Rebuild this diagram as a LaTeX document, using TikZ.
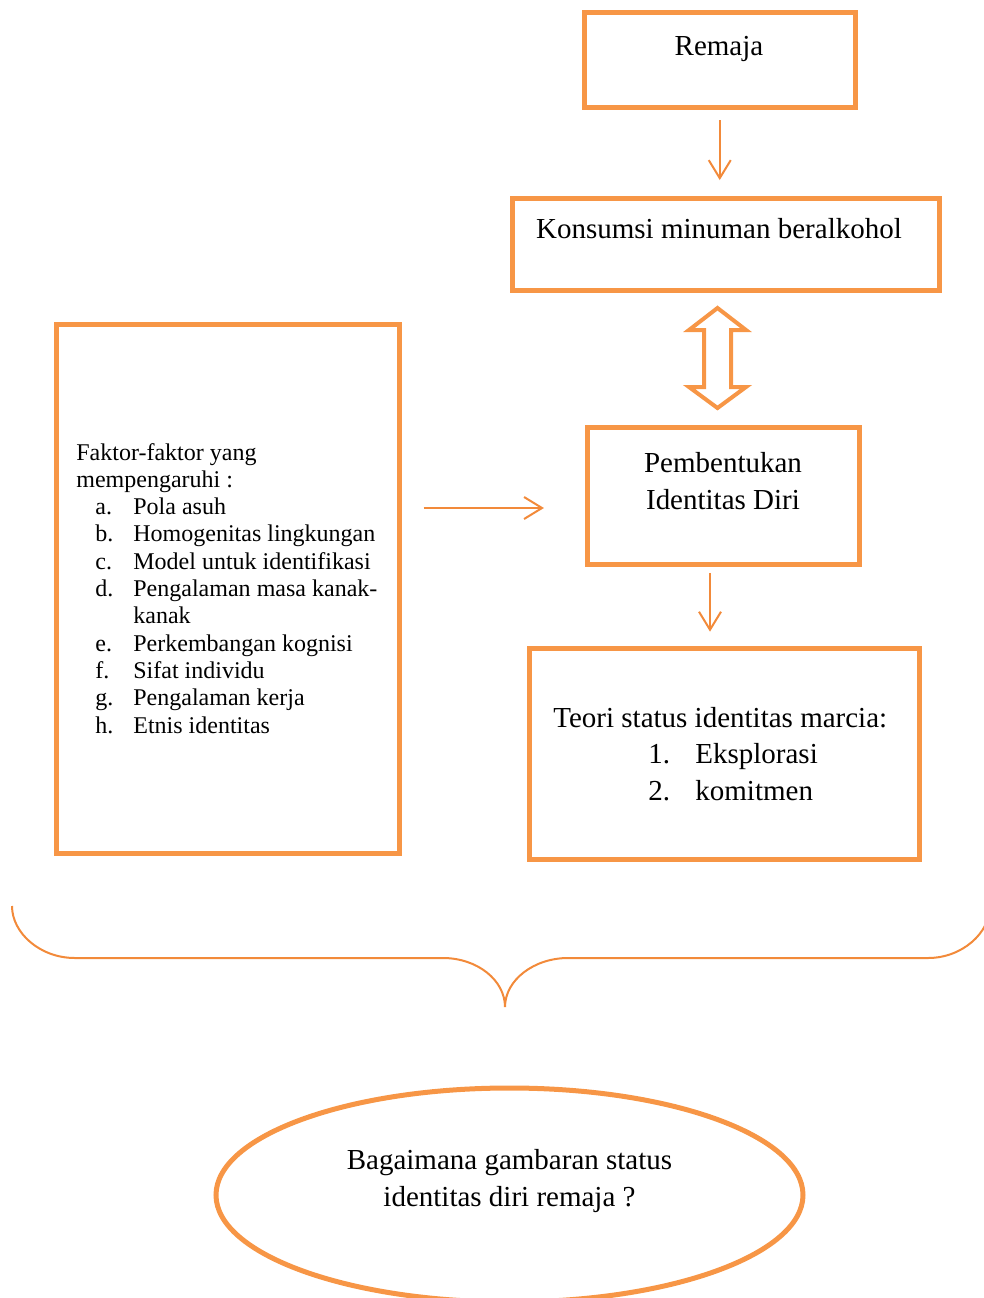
\documentclass[tikz,border=0pt]{standalone}
\usepackage{fontspec}
\setmainfont{Liberation Serif}
\usetikzlibrary{arrows.meta,shapes.geometric}
\definecolor{oranye}{HTML}{F79646}
\definecolor{oranyegaris}{HTML}{F28A3A}

\begin{document}
\begin{tikzpicture}[x=0.5pt,y=-0.5pt,
	kotak/.style={draw=oranye,line width=2.5pt,inner sep=0pt},
	panah/.style={draw=oranyegaris,line width=1pt,-{Straight Barb[length=9pt,width=11pt]}},
	besar/.style={font=\fontsize{14.5}{18.5}\selectfont,inner sep=0pt},
	kecil/.style={font=\fontsize{12}{13.65}\selectfont,inner sep=0pt}]
	\useasboundingbox (0,0) rectangle (984,1298);

	%menggambar kotak
	\node[kotak,minimum width=135.75pt,minimum height=47.5pt] (remaja) at (719.75,60) {};
	\node[kotak,minimum width=213.35pt,minimum height=45.85pt] (konsumsi) at (725.8,244.4) {};
	\node[kotak,minimum width=171.5pt,minimum height=264.5pt] (faktor) at (227.5,588.5) {};
	\node[kotak,minimum width=135.85pt,minimum height=68.35pt] (bentuk) at (723.3,495.9) {};
	\node[kotak,minimum width=194.7pt,minimum height=105.35pt] (teori) at (724.5,753.9) {};
	\node[kotak,ellipse,minimum width=293.5pt,minimum height=107pt] (tanya) at (509.5,1195) {};

	%menulis teks
	\node[besar,anchor=base] (remajatxt) at (719,55) {Remaja};
	\node[besar,anchor=base] (konsumsitxt) at (719,238) {Konsumsi minuman beralkohol};
	\node[besar,anchor=base] (bentuktxt) at (723,472) {\begin{tabular}[t]{@{}c@{}}Pembentukan\\Identitas Diri\end{tabular}};
	\node[besar,anchor=base west,font=\fontsize{14.5}{18.25}\selectfont] (teoritxt) at (553,727) {\begin{tabular}[t]{@{}l@{}l@{}}
		\multicolumn{2}{@{}l@{}}{Teori status identitas marcia:}\\
		\hspace{47.5pt}\makebox[23.5pt][l]{1.} & Eksplorasi\\
		\hspace{47.5pt}\makebox[23.5pt][l]{2.} & komitmen
	\end{tabular}};
	\node[kecil,anchor=base west] (faktortxt) at (76,460) {\begin{tabular}[t]{@{}l@{}l@{}}
		\multicolumn{2}{@{}l@{}}{Faktor-faktor yang}\\
		\multicolumn{2}{@{}l@{}}{mempengaruhi :}\\
		\hspace{9.5pt}\makebox[19pt][l]{a.} & Pola asuh\\
		\hspace{9.5pt}\makebox[19pt][l]{b.} & Homogenitas lingkungan\\
		\hspace{9.5pt}\makebox[19pt][l]{c.} & Model untuk identifikasi\\
		\hspace{9.5pt}\makebox[19pt][l]{d.} & \makebox[122pt][s]{Pengalaman masa kanak-}\\
		 & kanak\\
		\hspace{9.5pt}\makebox[19pt][l]{e.} & Perkembangan kognisi\\
		\hspace{9.5pt}\makebox[19pt][l]{f.} & Sifat individu\\
		\hspace{9.5pt}\makebox[19pt][l]{g.} & Pengalaman kerja\\
		\hspace{9.5pt}\makebox[19pt][l]{h.} & Etnis identitas
	\end{tabular}};
	\node[besar,anchor=base] (tanyatxt) at (509.5,1169) {\begin{tabular}[t]{@{}c@{}}Bagaimana gambaran status\\identitas diri remaja ?\end{tabular}};

	%menggambar panah
	\draw[panah,shorten <=5pt,shorten >=8pt] (remaja.south) -- (remaja.south |- konsumsi.north);
	\draw[panah,shorten <=3pt,shorten >=7.2pt] ([xshift=-6.65pt]bentuk.south) -- ([xshift=-6.65pt]bentuk.south |- teori.north);
	\draw[panah,shorten <=11pt,shorten >=20.5pt] ([yshift=40.25pt]faktor.east) -- ([yshift=40.25pt]faktor.east -| bentuk.west);

	%panah dua arah
	\draw[draw=oranye,line width=2pt,line join=miter] (717.5,308) -- (746,330) -- (731,330) -- (731,387) -- (746,387) -- (717.5,408)
		-- (689,387) -- (704,387) -- (704,330) -- (689,330) -- cycle;

	%kurung kurawal
	\draw[draw=oranyegaris,line width=1pt] (12,906) .. controls (12,933) and (40,958) .. (75,958) -- (443,958)
		.. controls (477,958) and (505,980) .. (505,1007) .. controls (505,980) and (534,958) .. (568,958) -- (928,958)
		.. controls (962,958) and (990,933) .. (990,906);
\end{tikzpicture}
\end{document}
